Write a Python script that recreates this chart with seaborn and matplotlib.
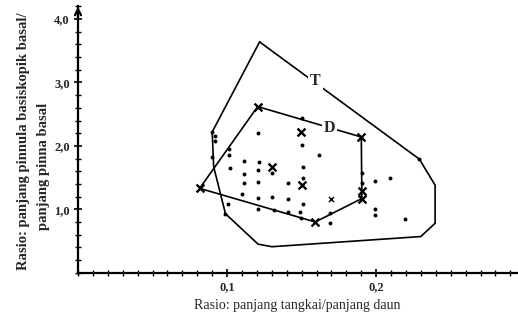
import numpy as np
import matplotlib
matplotlib.use("Agg")
import matplotlib.pyplot as plt
import seaborn as sns
from matplotlib.ticker import MultipleLocator

# Polygon T (outer envelope)
t_x = [0.1218, 0.2290, 0.2395, 0.2395, 0.2299, 0.1301, 0.1208, 0.0989, 0.0910, 0.0900, 0.1218]
t_y = [3.64, 1.79, 1.38, 0.78, 0.57, 0.41, 0.45, 0.93, 1.67, 2.22, 3.64]

# Polygon D (inner envelope)
d_x = [0.1205, 0.1900, 0.1904, 0.1591, 0.0816, 0.1205]
d_y = [2.62, 2.14, 1.17, 0.80, 1.33, 2.62]

# crosses (big) and the one small cross
cross_x = [0.1205, 0.1900, 0.1904, 0.1591, 0.0816, 0.1496, 0.1301, 0.1502, 0.1904]
cross_y = [2.62, 2.14, 1.17, 0.80, 1.33, 2.22, 1.67, 1.38, 1.29]
small_cross_x = [0.1697]
small_cross_y = [1.16]

# dots
dot_x = [0.0922, 0.0922, 0.1208, 0.1502, 0.1614, 0.1011, 0.1011, 0.1017, 0.1111, 0.1212,
         0.1208, 0.1301, 0.1509, 0.1509, 0.1111, 0.1111, 0.1208, 0.1406, 0.1100, 0.1208,
         0.1301, 0.1406, 0.1509, 0.1007, 0.1208, 0.1312, 0.1406, 0.1486, 0.1496, 0.1692,
         0.1687, 0.1993, 0.2094, 0.1993, 0.1993, 0.2190, 0.1904, 0.1904, 0.1502, 0.0900,
         0.2290, 0.0900, 0.0989]
dot_y = [2.16, 2.08, 2.21, 2.01, 1.86, 1.95, 1.86, 1.65, 1.76, 1.74,
         1.62, 1.58, 1.66, 1.50, 1.55, 1.41, 1.43, 1.42, 1.24, 1.18,
         1.19, 1.16, 1.08, 1.09, 1.00, 0.99, 0.96, 0.95, 0.86, 0.94,
         0.79, 1.44, 1.50, 1.00, 0.91, 0.84, 1.58, 1.42, 2.44, 1.83,
         1.79, 2.22, 0.93]

x_major = [0.1, 0.2]
x_labels = ["0,1", "0,2"]
y_major = [1.0, 2.0, 3.0, 4.0]
y_labels = ["1,0", "2,0", "3,0", "4,0"]

sns.set_style("white")
plt.rcParams['font.family'] = ['Liberation Serif', 'DejaVu Serif']

fig = plt.figure(figsize=(5.18, 3.2), dpi=100)
ax = fig.add_axes([78 / 518, 47.3 / 320, 440 / 518, 266.3 / 320])

sns.lineplot(x=t_x, y=t_y, sort=False, estimator=None, color="black", lw=1.2, ax=ax)
sns.lineplot(x=d_x, y=d_y, sort=False, estimator=None, color="black", lw=1.2, ax=ax)
sns.scatterplot(x=dot_x, y=dot_y, color="black", s=8, linewidth=0, ax=ax)
sns.scatterplot(x=cross_x, y=cross_y, marker="x", color="black", s=32, linewidth=1.7, ax=ax)
sns.scatterplot(x=small_cross_x, y=small_cross_y, marker="x", color="black", s=14, linewidth=1.0, ax=ax)

# envelope labels, white box breaks the line
ax.text(0.1591, 3.03, "T", fontsize=11.5, fontweight="bold", ha="center", va="center",
        bbox=dict(facecolor="white", edgecolor="none", pad=1.5))
ax.text(0.1687, 2.29, "D", fontsize=11.5, fontweight="bold", ha="center", va="center",
        bbox=dict(facecolor="white", edgecolor="none", pad=1.5))

ax.set_xlim(0, 0.2951)
ax.set_ylim(0, 4.2)
for s in ["top", "right"]:
    ax.spines[s].set_visible(False)
for s in ["left", "bottom"]:
    ax.spines[s].set_color("black")
    ax.spines[s].set_linewidth(1.6)

ax.set_xticks(x_major)
ax.set_xticklabels(x_labels, fontsize=9, fontweight="bold")
ax.set_yticks(y_major)
ax.set_yticklabels(y_labels, fontsize=9, fontweight="bold")
ax.xaxis.set_minor_locator(MultipleLocator(0.01))
ax.yaxis.set_minor_locator(MultipleLocator(0.2))
ax.tick_params(which="major", direction="inout", length=6, width=1.2, color="black", pad=3)
ax.tick_params(which="minor", direction="inout", length=4, width=1.0, color="black")
ax.tick_params(axis="both", which="both", bottom=True, left=True)

# arrow on top of the y axis
ax.annotate("", xy=(0, 4.24), xytext=(0, 3.95), xycoords="data",
            arrowprops=dict(arrowstyle="->", lw=1.6, color="black", mutation_scale=11),
            annotation_clip=False)

fig.text(297 / 518, 1 - 306 / 320, "Rasio: panjang tangkai/panjang daun",
         fontsize=10, ha="center", va="center")
fig.text(24 / 518, 1 - 141 / 320, "Rasio: panjang pinnula basiskopik basal/",
         fontsize=10.5, fontweight="bold", rotation=90, ha="center", va="center")
fig.text(43 / 518, 1 - 166 / 320, "panjang pinna basal",
         fontsize=10.5, fontweight="bold", rotation=90, ha="center", va="center")

plt.savefig("out.png", dpi=100)
